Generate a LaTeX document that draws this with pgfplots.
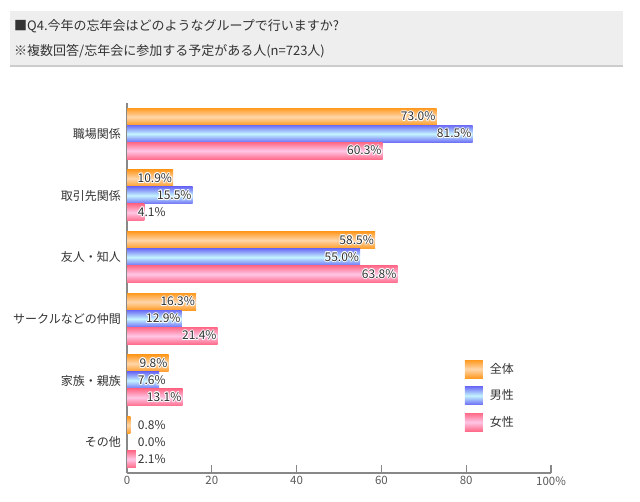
\documentclass[border=0pt]{standalone}
\usepackage{fontspec}
\setmainfont{Noto Sans CJK JP}
\usepackage{pgfplots}
\pgfplotsset{compat=1.18}
\usepackage{pgfplotstable}
\usepackage{contour}
\contourlength{0.9pt}
\contournumber{8}

\definecolor{orD}{HTML}{FF9A22}
\definecolor{orL}{HTML}{FFD6AA}
\definecolor{blD}{HTML}{6E6EF5}
\definecolor{blL}{HTML}{C4F4FF}
\definecolor{pkD}{HTML}{FF6A88}
\definecolor{pkL}{HTML}{FFC6E6}
\definecolor{hdr}{HTML}{EEEEEE}
\definecolor{hdrline}{HTML}{CCCCCC}
\definecolor{txt}{HTML}{333333}
\definecolor{axg}{HTML}{888888}

% y: category index (5 = top), v: value, lx: label position
\pgfplotstableread{
y v lx
5 73.0 73.0
4 10.9 10.9
3 58.5 58.5
2 16.3 16.3
1 9.8 9.8
0 0.8 9.4
}\tblAll
\pgfplotstableread{
y v lx
5 81.5 81.5
4 15.5 15.5
3 55.0 55.0
2 12.9 12.9
1 7.6 9.4
0 0.0 9.4
}\tblMale
\pgfplotstableread{
y v lx
5 60.3 60.3
4 4.1 9.4
3 63.8 63.8
2 21.4 21.4
1 13.1 13.1
0 2.1 9.4
}\tblFemale

\pgfplotsset{
  lbl/.style={draw=none, mark=none, forget plot,
    point meta=\thisrow{v},
    nodes near coords={\contour{white}{\pgfmathprintnumber[fixed,fixed zerofill,precision=1]{\pgfplotspointmeta}\%}},
    every node near coord/.append style={anchor=east, yshift=#1, inner sep=1pt, text=txt, font=\fontsize{12}{14}\selectfont}},
  onebar/.style 2 args={xbar, bar width=17pt, bar shift=#1, draw=none, forget plot,
    restrict expr to domain={\thisrow{y}}{#2:#2}},
  sqimg/.style 2 args={legend image code/.code={\path[draw=none, top color=#1, bottom color=#1, middle color=#2] (0pt,-9pt) rectangle (18pt,9pt);}},
}

\begin{document}
\begin{tikzpicture}
\path[use as bounding box] (0pt,0pt) rectangle (640pt,502pt);
\fill[hdr] (10pt,436pt) rectangle (623pt,491pt);
\draw[hdrline, line width=1.5pt] (10pt,436pt) -- (623pt,436pt);
\node[anchor=west, inner sep=0pt, text=txt, font=\fontsize{13}{15}\selectfont] at (14pt,476pt) {■Q4.今年の忘年会はどのようなグループで行いますか?};
\node[anchor=west, inner sep=0pt, text=txt, font=\fontsize{13}{15}\selectfont] at (14pt,451pt) {※複数回答/忘年会に参加する予定がある人(n=723人)};
\begin{axis}[
  at={(127pt,29pt)}, anchor=south west,
  scale only axis, width=424pt, height=370pt,
  xmin=0, xmax=100, ymin=-0.5, ymax=5.5,
  enlargelimits=false, clip=false,
  axis x line*=bottom, axis y line*=left,
  axis line style={axg, line width=1.2pt, -},
  xtick={0,20,40,60,80,100},
  xticklabels={0,20,40,60,80,100\%},
  ytick={0,1,2,3,4,5},
  yticklabels={その他,家族・親族,サークルなどの仲間,友人・知人,取引先関係,職場関係},
  ytick style={draw=none},
  xtick style={axg, line width=1.2pt},
  tick align=inside, major tick length=8pt,
  xticklabel style={font=\fontsize{11.5}{13}\selectfont, text=black!65},
  yticklabel style={font=\fontsize{12}{14}\selectfont, text=txt, inner sep=0pt, xshift=-6pt},
  /pgf/number format/assume math mode=true,
  legend style={at={(0.797,0.305)}, anchor=north west, draw=none, fill=none,
    inner sep=0pt, outer sep=0pt, row sep=8.5pt,
    nodes={inner sep=0pt, font=\fontsize{12}{14}\selectfont, text=txt},
    /tikz/every odd column/.append style={column sep=7pt}},
  legend cell align=left,
]
\pgfplotsinvokeforeach{0,...,5}{
  \addplot[onebar={17pt}{#1}, top color=orD, bottom color=orD, middle color=orL] table[x=v, y=y] {\tblAll};
  \addplot[onebar={0pt}{#1}, top color=blD, bottom color=blD, middle color=blL] table[x=v, y=y] {\tblMale};
  \addplot[onebar={-17pt}{#1}, top color=pkD, bottom color=pkD, middle color=pkL] table[x=v, y=y] {\tblFemale};
}
\addlegendimage{sqimg={orD}{orL}}
\addlegendentry{全体}
\addlegendimage{sqimg={blD}{blL}}
\addlegendentry{男性}
\addlegendimage{sqimg={pkD}{pkL}}
\addlegendentry{女性}
\addplot[lbl=17pt] table[x=lx, y=y] {\tblAll};
\addplot[lbl=0pt] table[x=lx, y=y] {\tblMale};
\addplot[lbl=-17pt] table[x=lx, y=y] {\tblFemale};
\end{axis}
\end{tikzpicture}
\end{document}
